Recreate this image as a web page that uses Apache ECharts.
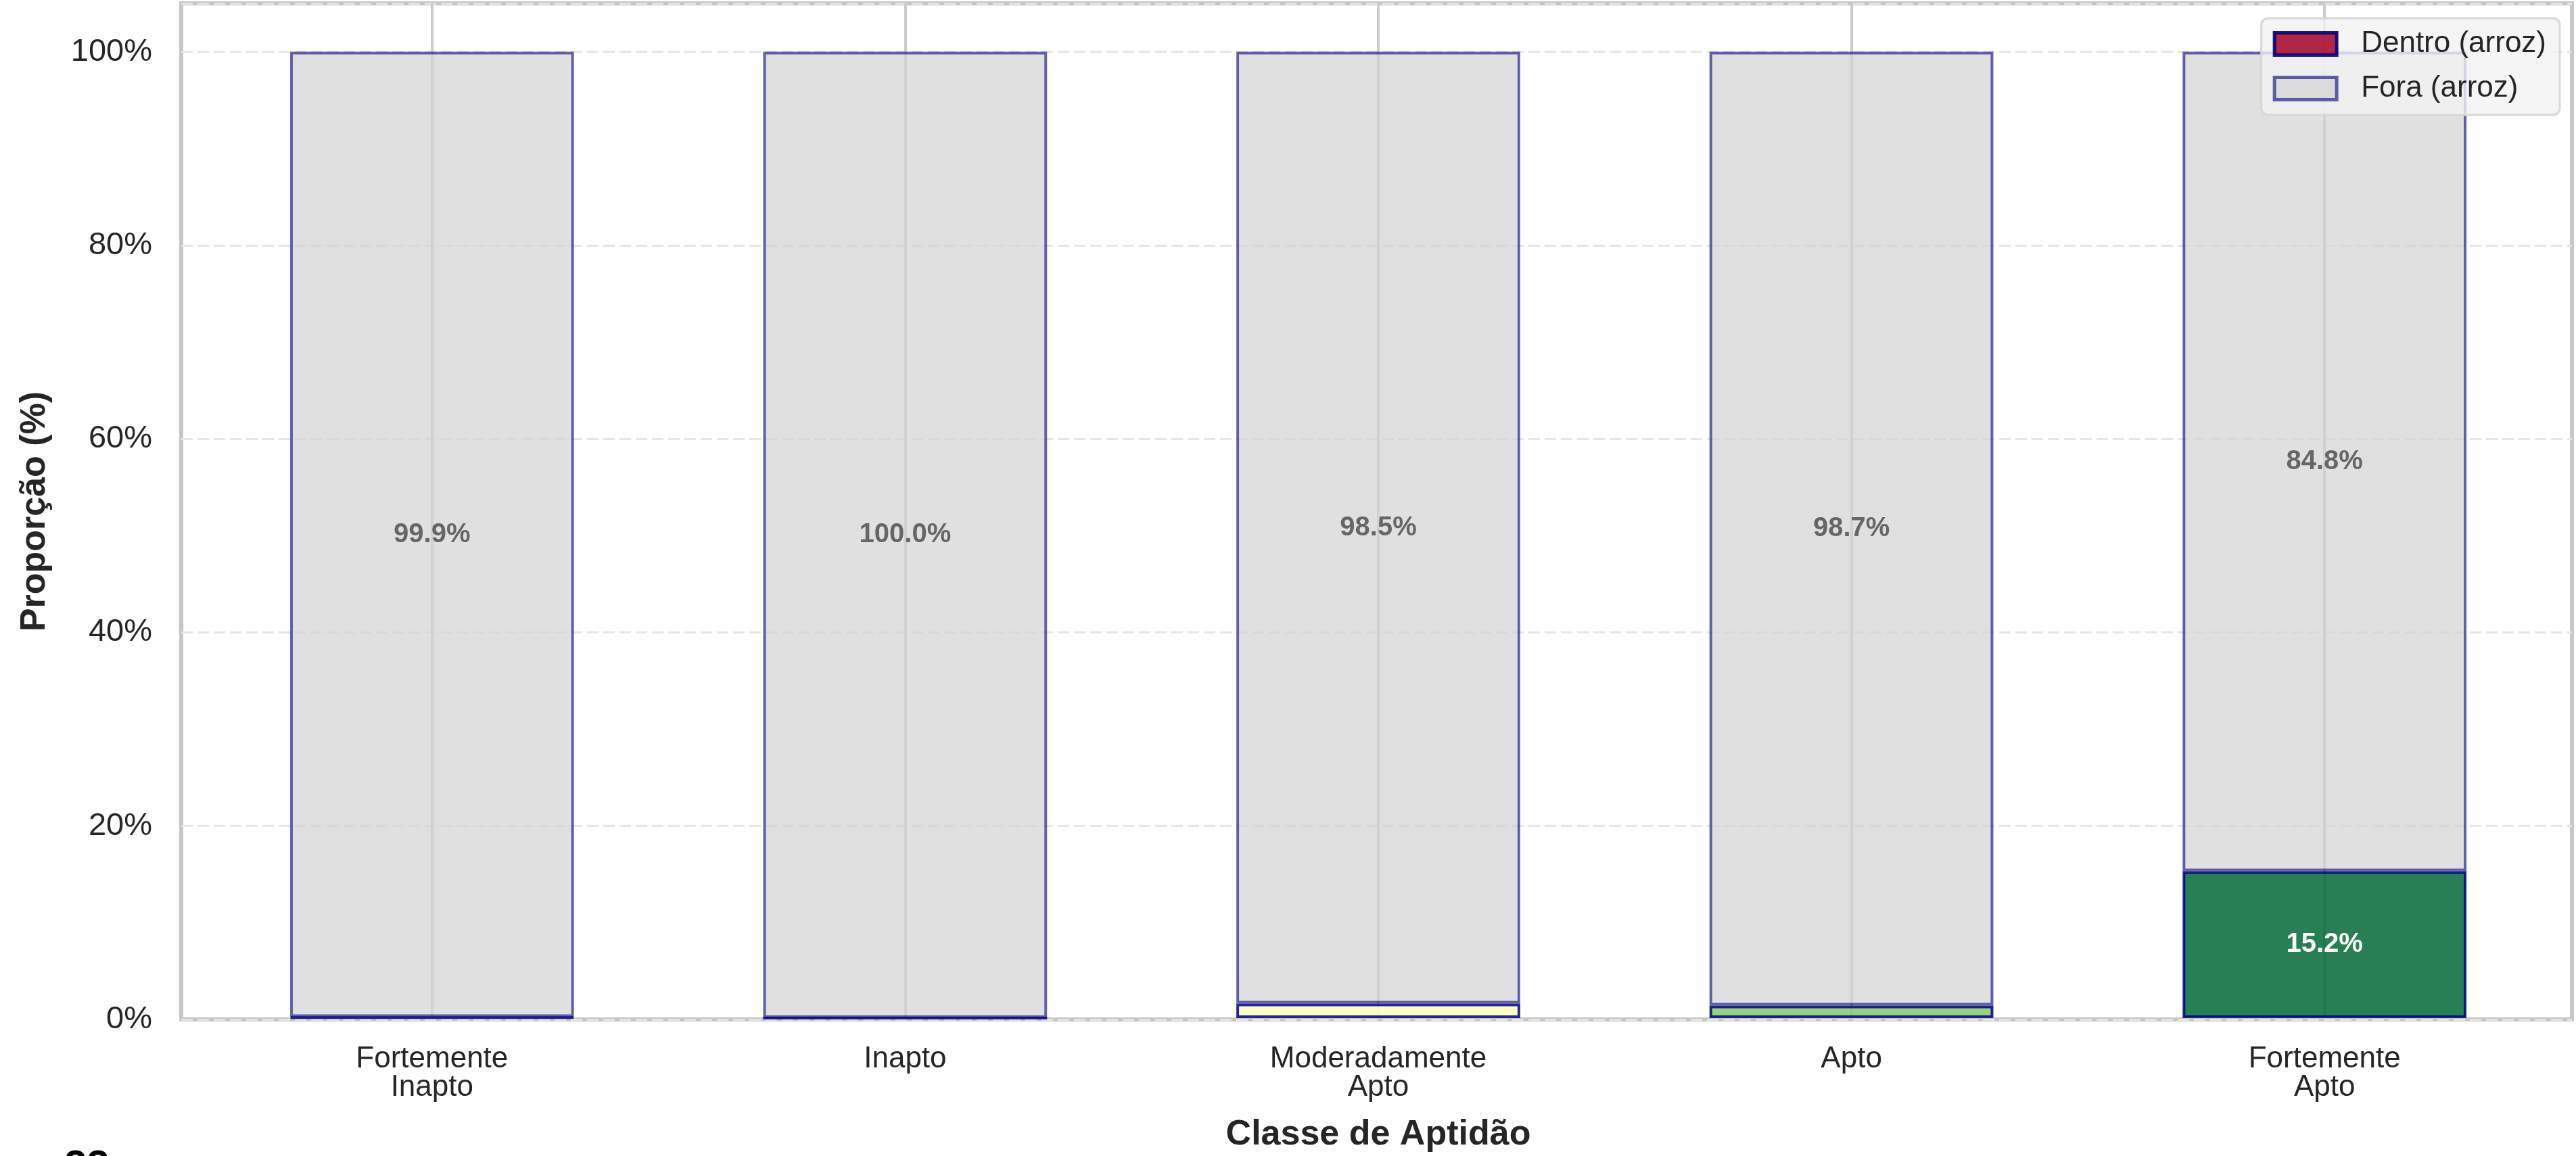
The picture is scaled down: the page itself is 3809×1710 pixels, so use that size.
<!DOCTYPE html>
<html><head><meta charset="utf-8">
<script src="https://cdn.jsdelivr.net/npm/echarts@6/dist/echarts.min.js"></script>
<style>html,body{margin:0;padding:0;background:#fff}#c{width:3809px;height:1710px}</style>
</head><body><div id="c"></div>
<script>
const categories = ['Fortemente\nInapto', 'Inapto', 'Moderadamente\nApto', 'Apto', 'Fortemente\nApto'];
const dentroValues = [0.1, 0.0, 1.5, 1.3, 15.2];
const foraValues = [99.9, 100.0, 98.5, 98.7, 84.8];
const dentroColors = ['rgba(165,0,38,0.85)', 'rgba(248,141,82,0.85)', 'rgba(254,255,190,0.85)', 'rgba(132,202,102,0.85)', 'rgba(0,104,55,0.85)'];
const seriesNames = ['Dentro (arroz)', 'Fora (arroz)'];
const xAxisTitle = 'Classe de Aptidão';
const yAxisTitle = 'Proporção (%)';
const cornerText = '22';

const FONT = "'Liberation Sans', Arial, Helvetica, sans-serif";
const TXT = '#262626';

const chart = echarts.init(document.getElementById('c'), null, {renderer: 'canvas'});

const dentroData = dentroValues.map((v, i) => ({
  value: v,
  itemStyle: {color: dentroColors[i]},
  label: {show: v >= 5}
}));
const foraData = foraValues.map(v => ({value: v}));

const option = {
  animation: false,
  backgroundColor: '#ffffff',
  textStyle: {fontFamily: FONT},
  grid: [
    {left: 268, right: 6, top: 5, bottom: 202, show: true, borderColor: '#c6c6c6', borderWidth: 6, backgroundColor: 'transparent'},
    {left: 289, right: 22, top: 5, bottom: 202}
  ],
  xAxis: [
    {type: 'value', gridIndex: 0, min: 0, max: 1, show: false},
    {
      type: 'category', gridIndex: 1, data: categories, boundaryGap: true,
      axisLine: {show: false}, axisTick: {show: false},
      axisLabel: {fontSize: 44, color: TXT, fontFamily: FONT, lineHeight: 42, margin: 40, interval: 0},
      splitLine: {show: true, alignWithLabel: true, lineStyle: {color: '#cccccc', width: 4}},
      name: xAxisTitle, nameLocation: 'middle', nameGap: 147,
      nameTextStyle: {fontSize: 52, fontWeight: 'bold', color: TXT, fontFamily: FONT}
    }
  ],
  yAxis: [
    {
      type: 'value', gridIndex: 0, min: 0, max: 105, interval: 20,
      axisLine: {show: false}, axisTick: {show: false},
      axisLabel: {fontSize: 47, color: TXT, fontFamily: FONT, margin: 43, showMaxLabel: false,
        formatter: v => (v > 100 ? '' : v + '%')},
      splitLine: {show: true, lineStyle: {color: '#e6e6e6', width: 3, type: [17, 7]}},
      name: yAxisTitle, nameLocation: 'middle', nameGap: 190, nameRotate: 90,
      nameTextStyle: {fontSize: 52, fontWeight: 'bold', color: TXT, fontFamily: FONT}
    },
    {type: 'value', gridIndex: 1, min: 0, max: 105, show: false, splitLine: {show: false}}
  ],
  legend: {
    show: true, right: 24, top: 27, orient: 'vertical', align: 'left',
    itemWidth: 92, itemHeight: 33, itemGap: 22,
    padding: [16, 20, 17, 17],
    backgroundColor: 'rgba(242,242,242,0.8)', borderColor: '#d8d8d8', borderWidth: 3, borderRadius: 10,
    textStyle: {fontSize: 44, color: TXT, fontFamily: FONT, lineHeight: 44, padding: [0, 0, 0, 31]},
    data: [
      {name: seriesNames[0], itemStyle: {color: 'rgba(165,0,38,0.85)', borderColor: 'rgba(0,0,128,0.9)', borderWidth: 5}},
      {name: seriesNames[1], itemStyle: {color: 'rgba(211,211,211,0.7)', borderColor: 'rgba(0,0,128,0.6)', borderWidth: 5}}
    ],
    icon: 'rect'
  },
  series: [
    {
      name: seriesNames[0], type: 'bar', stack: 'total', xAxisIndex: 1, yAxisIndex: 1,
      barWidth: '60%',
      data: dentroData,
      itemStyle: {color: dentroColors[0], borderColor: 'rgba(0,0,128,0.85)', borderWidth: 4},
      label: {position: 'inside', color: '#ffffff', fontWeight: 'bold', fontSize: 40, fontFamily: FONT,
        formatter: p => p.value.toFixed(1) + '%'}
    },
    {
      name: seriesNames[1], type: 'bar', stack: 'total', xAxisIndex: 1, yAxisIndex: 1,
      barWidth: '60%',
      data: foraData,
      itemStyle: {color: 'rgba(211,211,211,0.7)', borderColor: 'rgba(0,0,128,0.6)', borderWidth: 4},
      label: {show: true, position: 'inside', color: '#666666', fontWeight: 'bold', fontSize: 40, fontFamily: FONT,
        formatter: p => p.value.toFixed(1) + '%'}
    }
  ],
  graphic: [
    {type: 'text', left: 95, top: 1696, style: {text: cornerText, fontSize: 60, fontWeight: 'bold', fill: '#000000', fontFamily: FONT}}
  ]
};
chart.setOption(option);
</script>
</body></html>
